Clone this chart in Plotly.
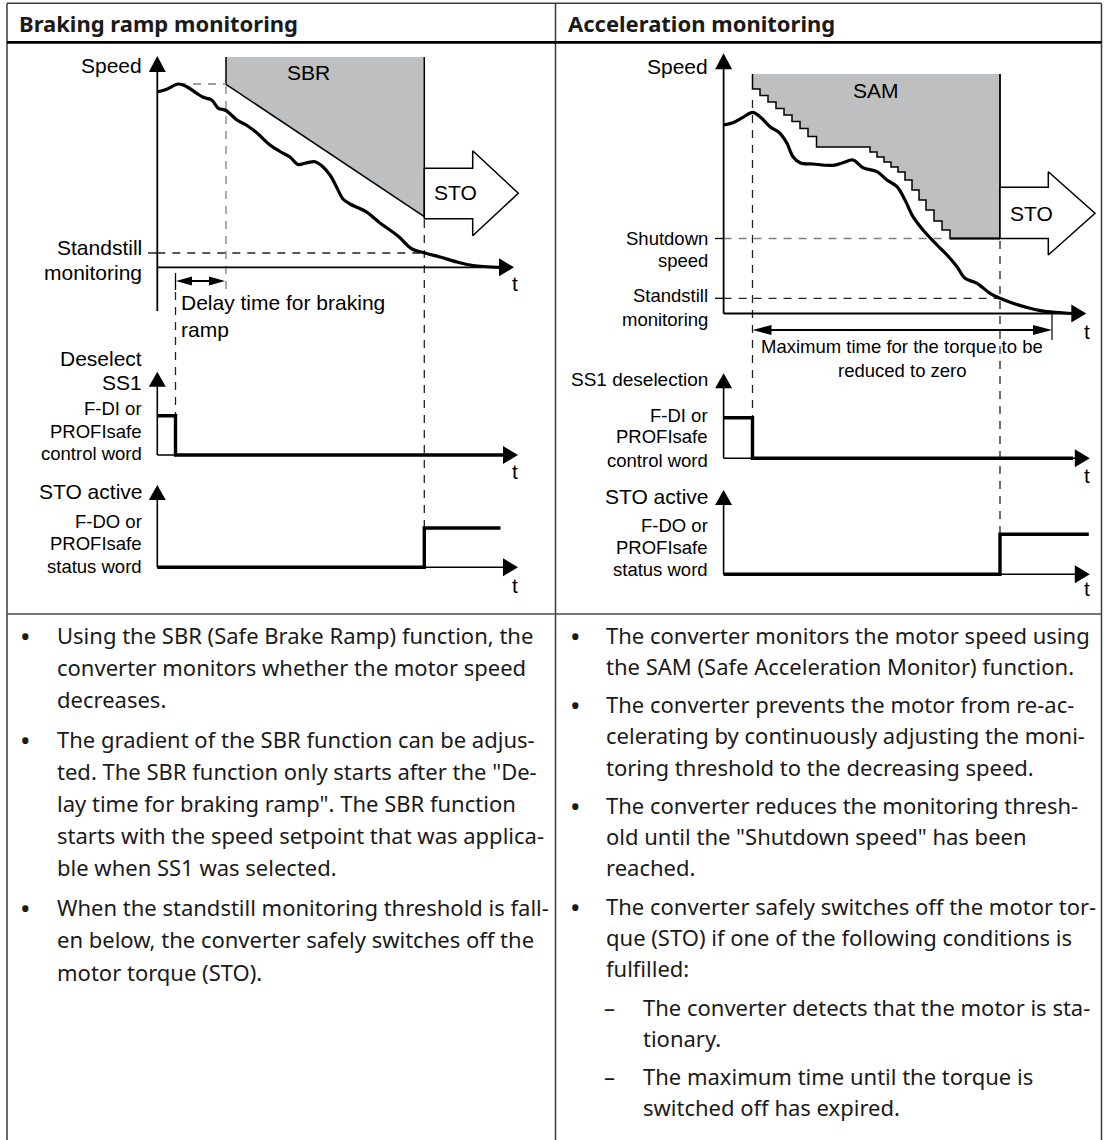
import plotly.graph_objects as go

W, H = 1104, 1140
LBL_FONT = "Liberation Sans, Arial, sans-serif"
TXT_FONT = "Noto Sans, Open Sans, sans-serif"
GRAY_FILL = "#bdbfc1"
DARK = "#1a1a1a"
DASH = "8px,7px"

# ---------- left panel: braking ramp monitoring (pixel coords, y down) ----------
sbr_speed_x = [158, 166.7, 178.3, 186.7, 196.7, 203.3, 211.7, 218.3, 226, 237, 247, 257, 270, 280, 290,
               298, 306, 315, 322, 330, 337, 343, 350, 366, 380, 398, 412, 425, 440, 457, 473, 500]
sbr_speed_y = [91.7, 89.3, 84, 86.7, 93.3, 97.3, 100, 108.3, 110.5, 120, 125.5, 133, 145, 151.5, 157,
               164.5, 163, 161.7, 166, 175, 188, 199, 204, 211.7, 223, 236, 249, 253, 257, 262, 265.5, 267.3]
sbr_ramp_x = [226, 226, 424.3, 424.3]
sbr_ramp_y = [57, 84.3, 216.7, 57]
sto_arrow_l_x = [424.3, 472.7, 472.7, 518.3, 472.7, 472.7, 424.3]
sto_arrow_l_y = [168.3, 168.3, 150.7, 193.3, 235.7, 218.7, 218.7]
ss1_sig_l_x = [157.3, 175.5, 175.5, 503]
ss1_sig_l_y = [415.7, 415.7, 455, 455]
sto_sig_l_x = [157.3, 424.3, 424.3, 500.5]
sto_sig_l_y = [567.3, 567.3, 528, 528]

# ---------- right panel: acceleration monitoring ----------
sam_speed_x = [723.6, 733, 743, 752.7, 760, 770, 780, 787, 793, 800, 813, 833, 843, 853, 863, 877, 887, 897,
               905, 913, 923, 937, 947, 957, 965, 977, 990, 1000, 1013, 1030, 1047, 1060, 1072]
sam_speed_y = [125, 122.7, 117.3, 112.3, 116.7, 126.7, 133.3, 143.3, 156.7, 162.7, 164, 165.3, 162.7, 160,
               167.7, 171.7, 180, 186.7, 200, 216.7, 230, 245, 255, 266.7, 278.3, 283.3, 293.3, 298.3,
               303.3, 308.3, 311.7, 312.5, 313.5]
# threshold staircase: x where each step drops, level after the drop
sam_drop_x = [752.5, 760, 768, 776, 784, 792, 800, 808, 816.5, 870, 877, 884, 891, 898, 905, 912, 919,
              926, 934, 942, 950]
sam_level_y = [89, 95.5, 102, 108.5, 115, 121.5, 128.5, 136.5, 147, 152, 157, 162, 167, 172, 180, 190,
               200, 210, 221, 230, 238.5]
sam_top, sam_right = 74, 1000
sto_arrow_r_x = [1000, 1048.3, 1048.3, 1095, 1048.3, 1048.3, 1000]
sto_arrow_r_y = [187.3, 187.3, 171.7, 213.3, 255, 238.5, 238.5]
ss1_sig_r_x = [723.6, 752.5, 752.5, 1073]
ss1_sig_r_y = [417.7, 417.7, 458.3, 458.3]
sto_sig_r_x = [723.6, 1000, 1000, 1088.8]
sto_sig_r_y = [574.3, 574.3, 534.3, 534.3]

# ---------- notes ----------
left_lines = [
    "Using the SBR (Safe Brake Ramp) function, the",
    "converter monitors whether the motor speed",
    "decreases.",
    "The gradient of the SBR function can be adjus-",
    "ted. The SBR function only starts after the \"De-",
    "lay time for braking ramp\". The SBR function",
    "starts with the speed setpoint that was applica-",
    "ble when SS1 was selected.",
    "When the standstill monitoring threshold is fall-",
    "en below, the converter safely switches off the",
    "motor torque (STO).",
]
left_line_y = [635, 667, 699, 738.5, 770.5, 802.5, 834.5, 866.5, 907, 939, 971.5]
left_bullet_y = [635, 738.5, 907]

right_lines = [
    "The converter monitors the motor speed using",
    "the SAM (Safe Acceleration Monitor) function.",
    "The converter prevents the motor from re-ac-",
    "celerating by continuously adjusting the moni-",
    "toring threshold to the decreasing speed.",
    "The converter reduces the monitoring thresh-",
    "old until the \"Shutdown speed\" has been",
    "reached.",
    "The converter safely switches off the motor tor-",
    "que (STO) if one of the following conditions is",
    "fulfilled:",
]
right_line_y = [635, 666, 704, 735, 766.5, 804.5, 835.5, 866.5, 905.5, 936.5, 967.5]
right_bullet_y = [635, 704, 804.5, 905.5]
right_sub_lines = ["The converter detects that the motor is sta-", "tionary.",
                   "The maximum time until the torque is", "switched off has expired."]
right_sub_y = [1006.5, 1037.5, 1075.5, 1106.5]
right_dash_y = [1006.5, 1075.5]

fig = go.Figure()


def seg(x, y, w=1.6, color="black", dash=None, shape="linear"):
    fig.add_trace(go.Scatter(x=x, y=y, mode="lines", hoverinfo="skip", showlegend=False,
                             line=dict(width=w, color=color, dash=dash, shape=shape)))


def poly(x, y, fill, w=0, color="black"):
    fig.add_trace(go.Scatter(x=x, y=y, mode="lines", fill="toself", fillcolor=fill, hoverinfo="skip",
                             showlegend=False, line=dict(width=w, color=color)))


def head(x, y, d, L=15, h=9):
    if d == "up":
        poly([x - h, x, x + h, x - h], [y + L, y, y + L, y + L], "black")
    elif d == "right":
        poly([x - L, x, x - L, x - L], [y - h, y, y + h, y - h], "black")
    else:
        poly([x + L, x, x + L, x + L], [y - h, y, y + h, y - h], "black")


def label(x, y, text, size=21, anchor="right", family=LBL_FONT, color="black"):
    fig.add_annotation(x=x, y=y, text=text, showarrow=False, xanchor=anchor, yanchor="middle",
                       font=dict(family=family, size=size, color=color))


# ===== left diagram =====
poly(sbr_ramp_x, sbr_ramp_y, GRAY_FILL)
seg(sbr_ramp_x, sbr_ramp_y, 1.5)
poly(sto_arrow_l_x + sto_arrow_l_x[:1], sto_arrow_l_y + sto_arrow_l_y[:1], "white", 1.5)
seg([178, 226], [84, 84], 1.3, "#808080", DASH)
seg([226, 226], [86, 293], 1.3, "#808080", DASH)
seg([157.3, 424], [253, 253], 1.3, "#222", DASH)
seg([148, 157.3], [253, 253], 1.3)
seg([424.3, 424.3], [220, 567], 1.3, "#222", DASH)
seg([175.5, 175.5], [273, 290], 1.3)
seg([175.5, 175.5], [292, 415], 1.3, "#222", DASH)
seg(sbr_speed_x, sbr_speed_y, 3.2, shape="spline")
# axes
seg([157.3, 157.3], [70, 311], 1.8)
head(157.3, 56, "up", 16, 8.5)
seg([157.3, 500], [267.3, 267.3], 1.8)
head(514, 267.3, "right", 15, 9)
# delay time arrow
seg([180, 221], [281, 281], 1.8)
head(176, 281, "left", 16, 4.5)
head(225, 281, "right", 16, 4.5)
# SS1 / STO signals
seg([157.3, 157.3], [386, 455], 1.6)
head(157.3, 371.7, "up", 15, 8.5)
seg([157.3, 505], [455, 455], 1.6)
head(518, 455, "right", 15, 9)
seg(ss1_sig_l_x, ss1_sig_l_y, 3.4)
seg([157.3, 157.3], [498, 567.3], 1.6)
head(157.3, 485, "up", 15, 8.5)
seg([157.3, 505], [567.3, 567.3], 1.6)
head(518, 567.3, "right", 15, 9)
seg(sto_sig_l_x, sto_sig_l_y, 3.4)

# ===== right diagram =====
stair_x = [sam_drop_x[0]]
stair_y = [sam_top]
for i, lv in enumerate(sam_level_y):
    stair_x += [sam_drop_x[i], sam_drop_x[i + 1] if i + 1 < len(sam_drop_x) else sam_right]
    stair_y += [lv, lv]
poly(stair_x + [sam_right, sam_right], stair_y + [sam_top, sam_top], GRAY_FILL)
seg(stair_x, stair_y, 1.5)
seg([sam_right, sam_right], [sam_top, sam_level_y[-1]], 1.8)
seg([sam_drop_x[-1], sam_right], [sam_level_y[-1], sam_level_y[-1]], 2)
poly(sto_arrow_r_x + sto_arrow_r_x[:1], sto_arrow_r_y + sto_arrow_r_y[:1], "white", 1.5)
seg([723.6, 950], [238.5, 238.5], 1.3, "#808080", DASH)
seg([715, 723.6], [238.5, 238.5], 1.3)
seg([723.6, 1000], [298.3, 298.3], 1.3, "#222", DASH)
seg([715, 723.6], [298.3, 298.3], 1.3)
seg([752.5, 752.5], [100, 418], 1.3, "#222", DASH)
seg([1000, 1000], [241, 574], 1.3, "#222", DASH)
seg(sam_speed_x, sam_speed_y, 3.2, shape="spline")
seg([723.6, 723.6], [68, 313.5], 1.8)
head(723.6, 53.3, "up", 16, 8.5)
seg([723.6, 1072], [313.5, 313.5], 1.8)
head(1086.3, 313.5, "right", 15, 9)
# max time arrow
seg([1052, 1052], [312, 340], 1.2)
seg([768, 1036], [330, 330], 1.8)
head(752.5, 330, "left", 19, 5)
head(1052, 330, "right", 19, 5)
seg([723.6, 723.6], [388, 458.3], 1.6)
head(723.6, 373.3, "up", 15, 8.5)
seg([723.6, 1075], [458.3, 458.3], 1.6)
head(1089.8, 458.3, "right", 15, 9)
seg(ss1_sig_r_x, ss1_sig_r_y, 3.4)
seg([723.6, 723.6], [502, 574.3], 1.6)
head(723.6, 490, "up", 15, 8.5)
seg([723.6, 1075], [574.3, 574.3], 1.6)
head(1089.8, 574.3, "right", 15, 9)
seg(sto_sig_r_x, sto_sig_r_y, 3.4)

# ===== diagram labels =====
label(144, 65, "Speed")
label(144, 247, "Standstill")
label(144, 272, "monitoring")
label(308, 72, "SBR", anchor="center")
label(455.7, 192.3, "STO", anchor="center")
label(515, 283, "t", anchor="center")
label(179, 302.7, "Delay time for braking", anchor="left")
label(179, 329.3, "ramp", anchor="left")
label(144, 358, "Deselect")
label(144, 382.7, "SS1")
label(144, 408.3, "F-DI or", 18.5)
label(144, 431.7, "PROFIsafe", 18.5)
label(144, 453.3, "control word", 18.5)
label(515, 471.7, "t", anchor="center")
label(144, 491.7, "STO active")
label(144, 521.7, "F-DO or", 18.5)
label(144, 543.3, "PROFIsafe", 18.5)
label(144, 566, "status word", 18.5)
label(515, 585, "t", anchor="center")

label(710.4, 66, "Speed")
label(875.8, 90.7, "SAM", anchor="center")
label(1031.7, 213.3, "STO", anchor="center")
label(710.4, 238, "Shutdown", 18.5)
label(710.4, 260, "speed", 18.5)
label(710.4, 295, "Standstill", 18.5)
label(710.4, 319.3, "monitoring", 18.5)
label(1087, 331.7, "t", anchor="center")
label(902, 346.7, "Maximum time for the torque to be", 18.5, "center")
label(902, 370, "reduced to zero", 18.5, "center")
label(710.4, 379.3, "SS1 deselection", 19)
label(710.4, 415, "F-DI or", 18.5)
label(710.4, 436.7, "PROFIsafe", 18.5)
label(710.4, 460, "control word", 18.5)
label(1087, 475, "t", anchor="center")
label(710.4, 496, "STO active")
label(710.4, 525, "F-DO or", 18.5)
label(710.4, 547.3, "PROFIsafe", 18.5)
label(710.4, 569.3, "status word", 18.5)
label(1087, 588, "t", anchor="center")

# ===== headers and notes =====
fig.add_annotation(x=17, y=23, text="<b>Braking ramp monitoring</b>", showarrow=False, xanchor="left",
                   yanchor="middle", font=dict(family=TXT_FONT, size=22, color=DARK))
fig.add_annotation(x=565.5, y=23, text="<b>Acceleration monitoring</b>", showarrow=False, xanchor="left",
                   yanchor="middle", font=dict(family=TXT_FONT, size=22, color=DARK))
for t, y in zip(left_lines, left_line_y):
    label(54.5, y, t, 22, "left", TXT_FONT, DARK)
for y in left_bullet_y:
    label(17.5, y + 1, "•", 28, "left", TXT_FONT, DARK)
for t, y in zip(right_lines, right_line_y):
    label(603.5, y, t, 22, "left", TXT_FONT, DARK)
for y in right_bullet_y:
    label(567.5, y + 1, "•", 28, "left", TXT_FONT, DARK)
for t, y in zip(right_sub_lines, right_sub_y):
    label(641, y, t, 22, "left", TXT_FONT, DARK)
for y in right_dash_y:
    label(602, y, "–", 22, "left", TXT_FONT, DARK)

# ===== table grid =====
grid = dict(color="#3a3a3a", width=1.5)
fig.add_shape(type="line", x0=7, x1=1101.5, y0=3.3, y1=3.3, line=grid)
fig.add_shape(type="line", x0=7, x1=7, y0=3.3, y1=H, line=grid)
fig.add_shape(type="line", x0=1101.5, x1=1101.5, y0=3.3, y1=H, line=grid)
fig.add_shape(type="line", x0=555.5, x1=555.5, y0=3.3, y1=H, line=grid)
fig.add_shape(type="line", x0=7, x1=1101.5, y0=42.3, y1=42.3, line=dict(color="black", width=2.8))
fig.add_shape(type="line", x0=7, x1=1101.5, y0=614, y1=614, line=dict(color="#4a4a4a", width=1.5))

fig.update_layout(
    width=W, height=H, margin=dict(l=0, r=0, t=0, b=0),
    paper_bgcolor="white", plot_bgcolor="white", hovermode=False, showlegend=False,
    xaxis=dict(range=[0, W], visible=False, fixedrange=True),
    yaxis=dict(range=[H, 0], visible=False, fixedrange=True),
)
fig.write_html("out.html", config={"displayModeBar": False},
               post_script="document.body.style.margin='0';")
